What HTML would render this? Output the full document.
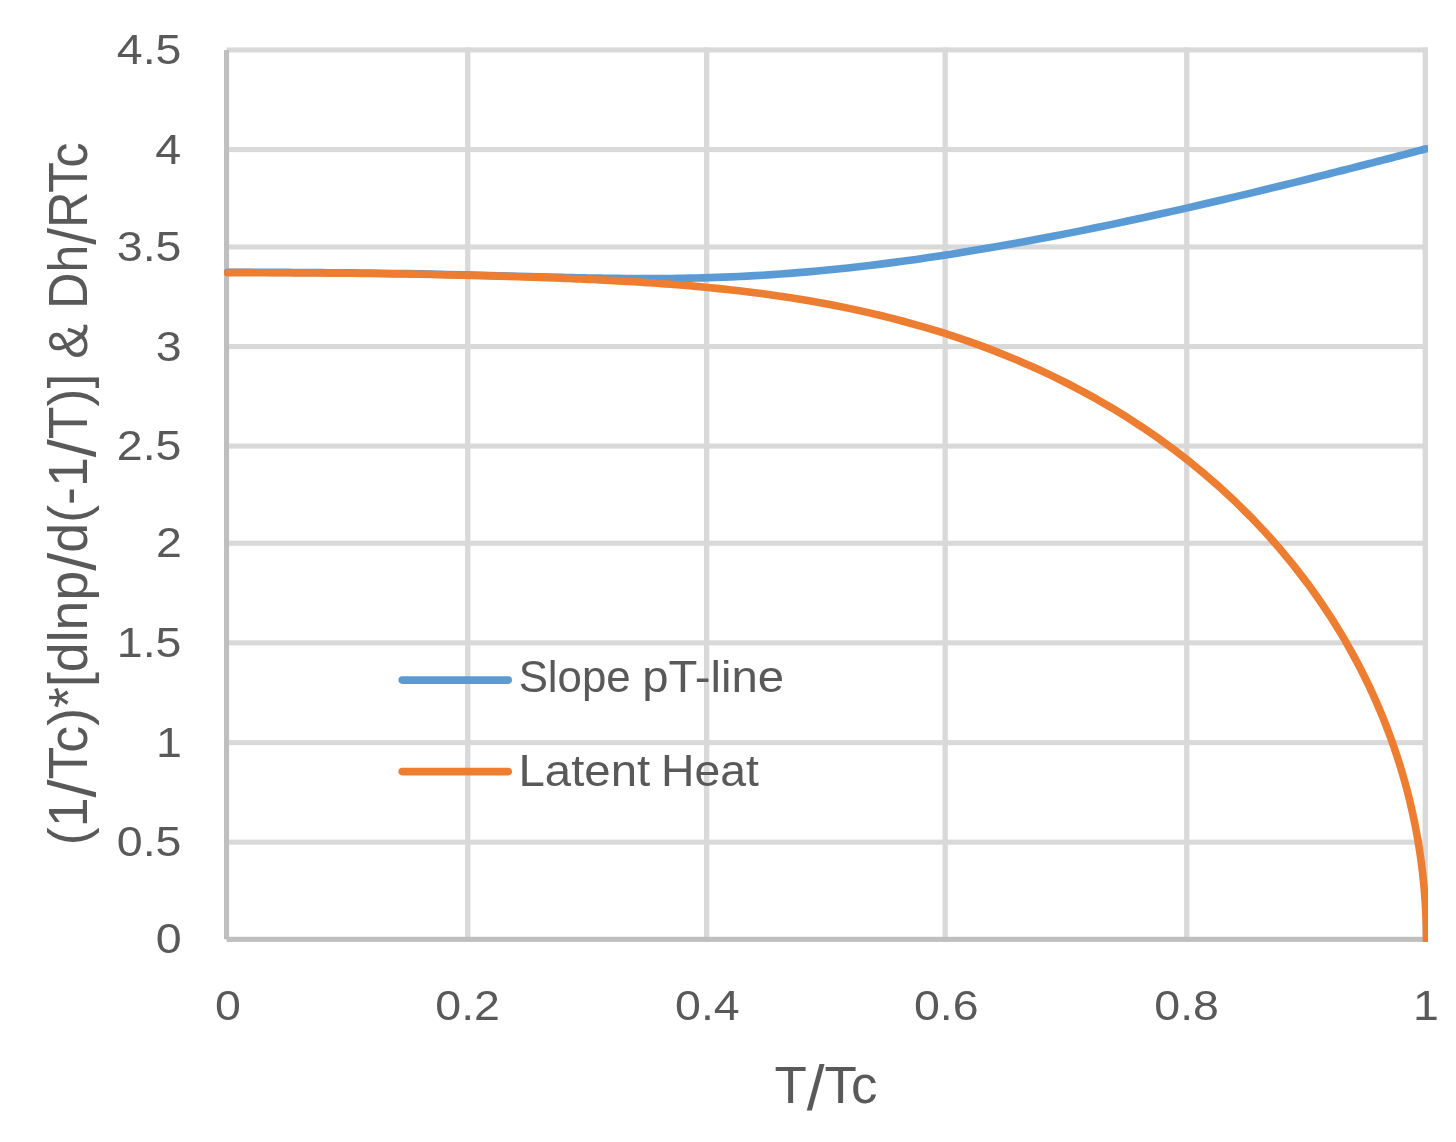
<!DOCTYPE html>
<html lang="en">
<head>
<meta charset="utf-8">
<title>Slope pT-line and Latent Heat vs T/Tc</title>
<style>
html,body{margin:0;padding:0;background:#ffffff;}
body{width:1456px;height:1142px;overflow:hidden;}
svg{display:block;}
text{font-family:"Liberation Sans", Arial, sans-serif;fill:#595959;}
</style>
</head>
<body>
<svg width="1456" height="1142" viewBox="0 0 1456 1142">
<rect x="0" y="0" width="1456" height="1142" fill="#ffffff"/>
<g fill="#d9d9d9">
<rect x="226.5" y="47.4" width="1201.4" height="5.1"/>
<rect x="226.5" y="147.0" width="1201.4" height="5.1"/>
<rect x="226.5" y="244.4" width="1201.4" height="5.1"/>
<rect x="226.5" y="344.0" width="1201.4" height="5.1"/>
<rect x="226.5" y="443.5" width="1201.4" height="5.1"/>
<rect x="226.5" y="540.7" width="1201.4" height="5.1"/>
<rect x="226.5" y="640.3" width="1201.4" height="5.1"/>
<rect x="226.5" y="740.1" width="1201.4" height="5.1"/>
<rect x="226.5" y="839.6" width="1201.4" height="5.1"/>
<rect x="465.1" y="47.4" width="5.3" height="894.5"/>
<rect x="704.0" y="47.4" width="5.3" height="894.5"/>
<rect x="942.5" y="47.4" width="5.3" height="894.5"/>
<rect x="1184.1" y="47.4" width="5.3" height="894.5"/>
<rect x="1422.6" y="47.4" width="5.3" height="894.5"/>
</g>
<g fill="#bfbfbf">
<rect x="224" y="50" width="5.1" height="889.3"/>
<rect x="226.5" y="936.8" width="1201.4" height="5.1"/>
</g>
<defs><clipPath id="plotclip"><rect x="224" y="40" width="1203.9" height="901.9"/></clipPath></defs>
<g fill="none" stroke-width="7.6" stroke-linecap="round" stroke-linejoin="round" clip-path="url(#plotclip)">
<path stroke="#5b9bd5" d="M227.70,272.25 L232.76,272.25 L233.13,272.25 L233.53,272.25 L233.96,272.25 L234.42,272.25 L234.92,272.25 L235.45,272.25 L236.02,272.25 L236.64,272.25 L237.30,272.25 L238.00,272.25 L238.76,272.26 L239.58,272.26 L240.46,272.26 L241.40,272.26 L242.41,272.26 L243.49,272.26 L244.66,272.26 L245.91,272.26 L247.25,272.27 L248.70,272.27 L250.25,272.27 L251.91,272.27 L253.70,272.28 L255.61,272.28 L257.67,272.29 L259.88,272.29 L262.26,272.30 L264.81,272.31 L267.54,272.32 L270.48,272.33 L273.64,272.34 L277.02,272.35 L280.66,272.37 L284.57,272.39 L288.76,272.41 L293.26,272.43 L298.10,272.46 L303.29,272.49 L308.86,272.53 L314.84,272.57 L321.26,272.62 L328.16,272.68 L335.56,272.75 L343.50,272.83 L352.03,272.92 L361.18,273.03 L371.00,273.15 L381.54,273.30 L392.85,273.46 L404.98,273.66 L418.00,273.88 L431.95,274.15 L446.92,274.45 L462.97,274.81 L480.16,275.22 L498.59,275.68 L518.32,276.21 L539.43,276.77 L562.01,277.35 L565.50,277.43 L569.07,277.52 L572.71,277.60 L576.42,277.68 L580.22,277.77 L584.10,277.85 L588.06,277.93 L592.11,278.01 L596.24,278.08 L600.47,278.16 L604.80,278.23 L609.22,278.29 L613.75,278.35 L618.37,278.41 L623.11,278.46 L627.96,278.50 L632.92,278.54 L638.01,278.56 L643.21,278.58 L648.54,278.58 L654.00,278.57 L659.60,278.55 L665.34,278.51 L671.22,278.45 L677.25,278.38 L683.43,278.28 L689.78,278.16 L696.28,278.02 L702.96,277.84 L709.81,277.64 L716.84,277.41 L724.05,277.14 L731.46,276.84 L739.06,276.49 L746.87,276.10 L754.88,275.66 L763.11,275.18 L771.56,274.64 L780.24,274.04 L789.15,273.38 L798.30,272.66 L807.69,271.87 L817.33,271.01 L827.22,270.07 L837.38,269.05 L847.80,267.95 L858.49,266.76 L869.45,265.48 L880.69,264.11 L892.20,262.64 L904.00,261.07 L916.07,259.39 L928.43,257.61 L941.07,255.72 L953.98,253.71 L967.17,251.60 L980.63,249.37 L994.34,247.02 L1008.32,244.57 L1022.53,242.00 L1036.98,239.32 L1051.64,236.53 L1066.50,233.63 L1081.55,230.63 L1096.75,227.54 L1112.08,224.36 L1127.53,221.09 L1143.04,217.74 L1158.61,214.33 L1174.18,210.86 L1189.72,207.35 L1205.20,203.80 L1220.56,200.23 L1235.76,196.65 L1250.75,193.08 L1265.48,189.54 L1279.90,186.03 L1293.95,182.58 L1307.59,179.21 L1312.44,178.00 L1317.23,176.80 L1321.95,175.62 L1326.60,174.46 L1331.17,173.30 L1335.67,172.17 L1340.09,171.05 L1344.43,169.95 L1348.68,168.87 L1352.84,167.81 L1356.91,166.77 L1360.89,165.76 L1364.78,164.76 L1368.56,163.79 L1372.25,162.84 L1375.83,161.92 L1379.31,161.02 L1382.68,160.15 L1385.94,159.30 L1389.08,158.49 L1392.12,157.70 L1395.03,156.94 L1397.83,156.21 L1400.51,155.52 L1403.06,154.85 L1405.49,154.21 L1407.80,153.61 L1409.97,153.04 L1412.02,152.51 L1413.93,152.00 L1415.71,151.53 L1417.36,151.10 L1418.88,150.70 L1420.26,150.34 L1421.50,150.01 L1422.60,149.72 L1423.56,149.47 L1424.39,149.25 L1425.07,149.07 L1425.18,149.04 L1425.28,149.02 L1425.38,148.99 L1425.47,148.97 L1425.56,148.94 L1425.65,148.92 L1425.73,148.90 L1425.81,148.88 L1425.88,148.86 L1425.94,148.84 L1426.01,148.83 L1426.06,148.81 L1426.12,148.80 L1426.17,148.78 L1426.21,148.77 L1426.25,148.76 L1426.28,148.75 L1426.31,148.74 L1426.34,148.74 L1426.36,148.73 L1426.38,148.73 L1426.39,148.72 L1426.40,148.72 L1426.40,148.72 L1426.40,148.72"/>
<path stroke="#ed7d31" transform="translate(0,0.4)" d="M227.70,272.25 L232.76,272.25 L233.13,272.25 L233.53,272.25 L233.96,272.25 L234.42,272.25 L234.92,272.25 L235.45,272.25 L236.02,272.25 L236.64,272.25 L237.30,272.25 L238.00,272.25 L238.76,272.26 L239.58,272.26 L240.46,272.26 L241.40,272.26 L242.41,272.26 L243.49,272.26 L244.66,272.26 L245.91,272.26 L247.25,272.27 L248.70,272.27 L250.25,272.27 L251.91,272.27 L253.70,272.28 L255.61,272.28 L257.67,272.29 L259.88,272.29 L262.26,272.30 L264.81,272.31 L267.54,272.32 L270.48,272.33 L273.64,272.34 L277.02,272.35 L280.66,272.37 L284.57,272.39 L288.76,272.41 L293.26,272.43 L298.10,272.46 L303.29,272.49 L308.86,272.53 L314.84,272.57 L321.26,272.62 L328.16,272.68 L335.56,272.75 L343.50,272.83 L352.03,272.92 L361.18,273.03 L371.00,273.15 L381.54,273.30 L392.85,273.46 L404.98,273.66 L418.00,273.88 L431.95,274.15 L446.92,274.46 L462.97,274.81 L480.16,275.24 L498.59,275.73 L518.32,276.31 L539.43,277.01 L562.01,277.84 L565.50,277.98 L569.07,278.13 L572.71,278.28 L576.42,278.43 L580.22,278.60 L584.10,278.77 L588.06,278.95 L592.11,279.14 L596.24,279.33 L600.47,279.54 L604.80,279.75 L609.22,279.98 L613.75,280.22 L618.37,280.47 L623.11,280.73 L627.96,281.01 L632.92,281.31 L638.01,281.62 L643.21,281.95 L648.54,282.30 L654.00,282.67 L659.60,283.06 L665.34,283.47 L671.22,283.92 L677.25,284.39 L683.43,284.89 L689.78,285.43 L696.28,286.00 L702.96,286.62 L709.81,287.27 L716.84,287.97 L724.05,288.73 L731.46,289.53 L739.06,290.40 L746.87,291.33 L754.88,292.33 L763.11,293.40 L771.56,294.56 L780.24,295.81 L789.15,297.15 L798.30,298.60 L807.69,300.16 L817.33,301.84 L827.22,303.65 L837.38,305.61 L847.80,307.72 L858.49,310.00 L869.45,312.46 L880.69,315.11 L892.20,317.97 L904.00,321.06 L916.07,324.39 L928.43,327.97 L941.07,331.84 L953.98,336.00 L967.17,340.48 L980.63,345.29 L994.34,350.47 L1008.32,356.03 L1022.53,362.00 L1036.98,368.40 L1051.64,375.25 L1066.50,382.58 L1081.55,390.42 L1096.75,398.79 L1112.08,407.71 L1127.53,417.20 L1143.04,427.30 L1158.61,438.03 L1174.18,449.40 L1189.72,461.43 L1205.20,474.15 L1220.56,487.56 L1235.76,501.68 L1250.75,516.53 L1265.48,532.10 L1279.90,548.40 L1293.95,565.43 L1307.59,583.19 L1312.44,589.85 L1317.23,596.59 L1321.95,603.44 L1326.60,610.37 L1331.17,617.40 L1335.67,624.52 L1340.09,631.73 L1344.43,639.03 L1348.68,646.42 L1352.84,653.89 L1356.91,661.45 L1360.89,669.10 L1364.78,676.82 L1368.56,684.63 L1372.25,692.52 L1375.83,700.48 L1379.31,708.52 L1382.68,716.64 L1385.94,724.82 L1389.08,733.08 L1392.12,741.40 L1395.03,749.79 L1397.83,758.24 L1400.51,766.75 L1403.06,775.32 L1405.49,783.94 L1407.80,792.62 L1409.97,801.35 L1412.02,810.12 L1413.93,818.94 L1415.71,827.80 L1417.36,836.70 L1418.88,845.63 L1420.26,854.60 L1421.50,863.59 L1422.60,872.62 L1423.56,881.66 L1424.39,890.73 L1425.07,899.81 L1425.18,901.45 L1425.28,903.08 L1425.38,904.72 L1425.47,906.35 L1425.56,907.99 L1425.65,909.62 L1425.73,911.26 L1425.81,912.89 L1425.88,914.53 L1425.94,916.17 L1426.01,917.80 L1426.06,919.44 L1426.12,921.08 L1426.17,922.72 L1426.21,924.36 L1426.25,925.99 L1426.28,927.63 L1426.31,929.27 L1426.34,930.91 L1426.36,932.55 L1426.38,934.19 L1426.39,935.82 L1426.40,937.46 L1426.40,939.10 L1426.40,939.30"/>
</g>
<g fill="none" stroke-width="7.6" stroke-linecap="round" stroke-linejoin="round">
<path stroke="#5b9bd5" d="M402.2,680.1 L508.2,680.1"/>
<path stroke="#ed7d31" d="M402.2,771.6 L508.2,771.6"/>
</g>
<g>
<text transform="translate(116.79,63.90) scale(1.0820,1)" font-size="43.00">4.5</text>
<text transform="translate(155.17,163.50) scale(1.0820,1)" font-size="43.00">4</text>
<text transform="translate(116.79,260.90) scale(1.0820,1)" font-size="43.00">3.5</text>
<text transform="translate(155.87,360.50) scale(1.0820,1)" font-size="43.00">3</text>
<text transform="translate(116.79,460.00) scale(1.0820,1)" font-size="43.00">2.5</text>
<text transform="translate(156.10,557.20) scale(1.0820,1)" font-size="43.00">2</text>
<text transform="translate(116.79,656.80) scale(1.0820,1)" font-size="43.00">1.5</text>
<text transform="translate(156.10,756.60) scale(1.0820,1)" font-size="43.00">1</text>
<text transform="translate(116.79,856.10) scale(1.0820,1)" font-size="43.00">0.5</text>
<text transform="translate(155.64,953.30) scale(1.0820,1)" font-size="43.00">0</text>
</g>
<g>
<text transform="translate(214.89,1019.60) scale(1.0820,1)" font-size="43.00">0</text>
<text transform="translate(435.30,1019.60) scale(1.0820,1)" font-size="43.00">0.2</text>
<text transform="translate(675.03,1019.60) scale(1.0820,1)" font-size="43.00">0.4</text>
<text transform="translate(913.98,1019.60) scale(1.0820,1)" font-size="43.00">0.6</text>
<text transform="translate(1154.28,1019.60) scale(1.0820,1)" font-size="43.00">0.8</text>
<text transform="translate(1413.01,1019.60) scale(1.0820,1)" font-size="43.00">1</text>
</g>
<text transform="translate(774.48,1102.80) scale(1.0188,1)" font-size="51.90">T<tspan font-size="62.80" dy="7.27">/</tspan><tspan dy="-7.27">Tc</tspan></text>
<text transform="translate(518.63,691.50) scale(1.0070,1)" font-size="43.50">Slope</text>
<text transform="translate(642.23,691.50) scale(1.0866,1)" font-size="43.50">pT-line</text>
<text transform="translate(518.51,786.10) scale(1.0893,1)" font-size="43.50">Latent</text>
<text transform="translate(661.09,786.10) scale(1.0649,1)" font-size="43.50">Heat</text>
<text transform="translate(87.40,845.22) rotate(-90) scale(0.9756,1)" font-size="55.00">(1<tspan font-size="66.55" dy="7.70">/</tspan><tspan dy="-7.70">Tc)*[dlnp</tspan><tspan font-size="66.55" dy="7.70">/</tspan><tspan dy="-7.70">d(-1</tspan><tspan font-size="66.55" dy="7.70">/</tspan><tspan dy="-7.70">T)]</tspan></text>
<text transform="translate(87.40,358.63) rotate(-90) scale(0.9490,1)" font-size="55.00">&amp;</text>
<text transform="translate(87.40,308.70) rotate(-90) scale(0.9102,1)" font-size="55.00">Dh<tspan font-size="66.55" dy="7.70">/</tspan><tspan dy="-7.70">RTc</tspan></text>
</svg>
</body>
</html>
